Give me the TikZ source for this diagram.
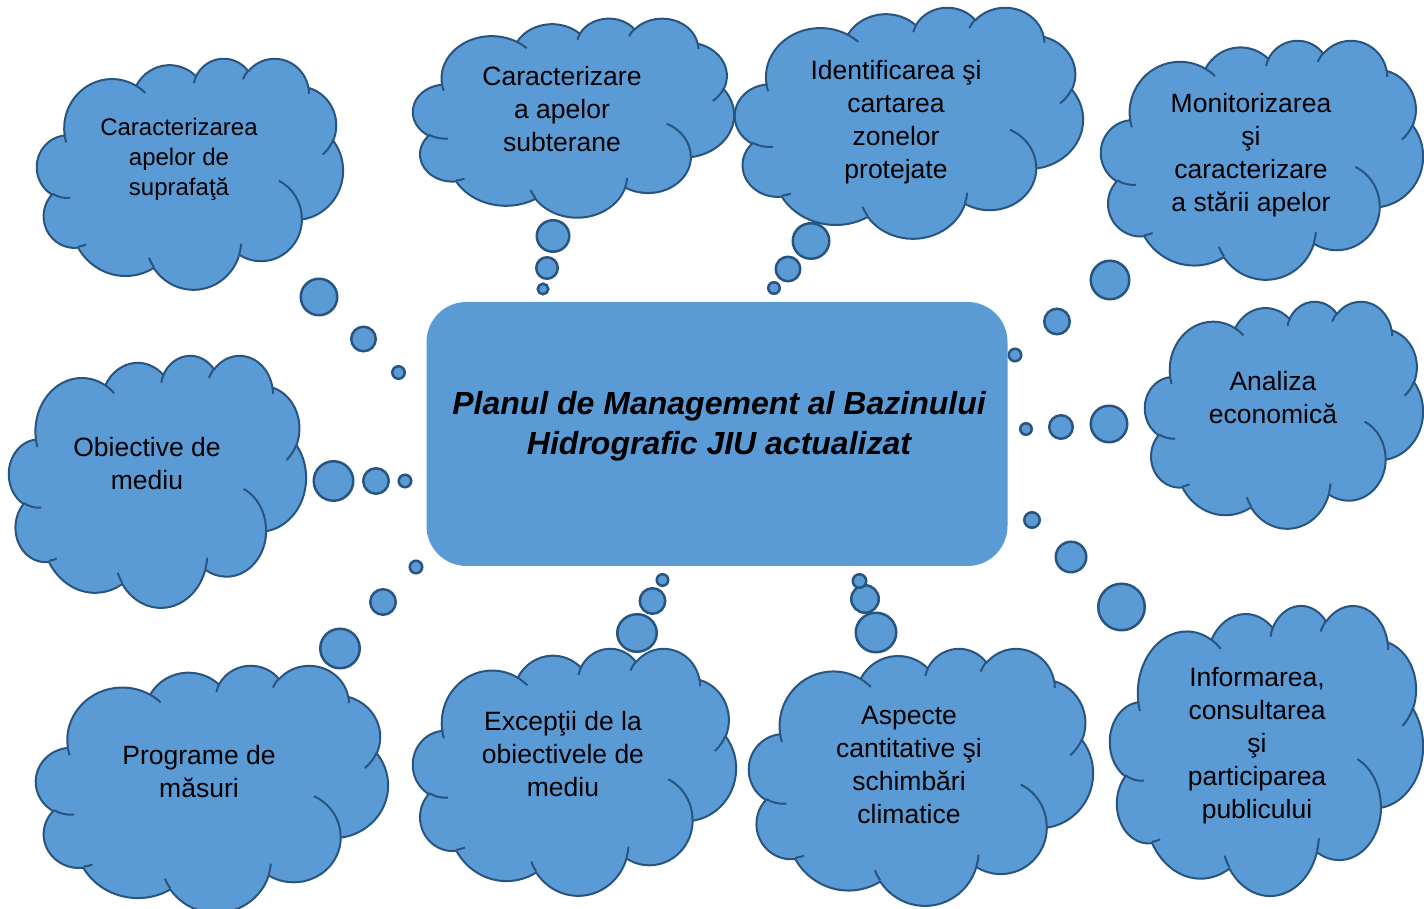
\documentclass[tikz,border=0pt]{standalone}
\usepackage{fontspec}
\setmainfont{Liberation Sans}
\usetikzlibrary{shapes.geometric}
\definecolor{cfill}{RGB}{91,155,213}
\definecolor{cline}{RGB}{40,84,128}
\tikzset{
  cloudbody/.style={fill=cfill, draw=cline, line width=2pt, line join=round},
  cloudcrease/.style={draw=cline, line width=2pt},
  bubble/.style={ellipse, fill=cfill, draw=cline, line width=2.5pt, inner sep=0pt},
  cloudtext/.style={align=center, font=\fontsize{26.5}{33}\selectfont, text=black, inner sep=0pt},
  smalltext/.style={cloudtext, font=\fontsize{24}{30}\selectfont},
  centerbox/.style={fill=cfill, draw=none, rounded corners=40pt, inner sep=0pt},
  centertext/.style={align=center, font=\fontsize{32}{40}\selectfont\bfseries\itshape, text=black, inner sep=0pt},
}
% Office-style cloud: left, top, width, height (pixels, y measured downwards)
\newcommand\drawcloud[4]{%
  \pgfmathsetmacro\clX{#1}%
  \pgfmathsetmacro\clY{909-#2}%
  \pgfmathsetmacro\clSx{#3/43.2}%
  \pgfmathsetmacro\clSy{#4/43.2}%
  \draw[cloudbody] (\clX+3.9*\clSx, \clY-14.37*\clSy)
    \foreach \qa/\qb/\qs/\qw [evaluate=\qs as \qt using {atan2(\qa*sin(\qs),\qb*cos(\qs))},
                              evaluate=\qw as \qd using {mod(atan2(\qa*sin(\qs+\qw),\qb*cos(\qs+\qw))-\qt+720,360)}]
    in {6.753/9.190/-190.48748/123.78053,
        5.333/7.267/-144.10238/89.94523,
        4.365/5.945/-145.80792/99.72302,
        4.857/6.595/-130.98607/117.24173,
        5.333/7.273/-78.70888/109.02692,
        6.775/9.220/-46.26725/130.269,
        5.785/7.867/0.62502/114.03333,
        6.752/9.215/22.4516/115.17255,
        7.720/10.543/66.24263/75.71102,
        4.360/5.918/-274.94208/146.73557,
        4.345/5.945/-246.8285/152.51885}
    { arc[start angle={-1*(\qt)}, delta angle={-1*(\qd)}, x radius={\qa*\clSx*1pt}, y radius={\qb*\clSy*1pt}] }
    -- cycle;
  \foreach \qx/\qy/\qa/\qb/\qs/\qw [evaluate=\qs as \qt using {atan2(\qa*sin(\qs),\qb*cos(\qs))},
                              evaluate=\qw as \qd using {mod(atan2(\qa*sin(\qs+\qw),\qb*cos(\qs+\qw))-\qt+720,360)}]
    in {4.693/26.177/4.345/5.945/86.742/26.4295,
        6.928/34.899/4.360/5.918/73.61047/11.44747,
        16.478/39.090/6.752/9.215/137.62415/14.0811,
        28.827/34.751/6.752/9.215/6.45327/15.99835,
        34.129/22.954/5.785/7.867/-70.29235/70.91737,
        41.798/15.354/5.333/7.273/30.31803/27.7515,
        38.324/5.426/4.857/6.595/-13.74433/14.8589,
        29.078/3.952/4.857/6.595/-149.18145/18.19537,
        22.141/4.720/4.365/5.945/-163.49427/17.68635,
        14.000/5.192/6.753/9.190/-66.70695/12.31935,
        4.127/15.789/6.753/9.190/157.65435/11.85817}
    { \draw[cloudcrease] (\clX+\qx*\clSx, \clY-\qy*\clSy)
        arc[start angle={-1*(\qt)}, delta angle={-1*(\qd)}, x radius={\qa*\clSx*1pt}, y radius={\qb*\clSy*1pt}]; }
}
% bubble: name, cx, cy, rx, ry (pixels, outer size)
\newcommand\bub[5]{%
  \node[bubble, minimum width={2*#4-2.5}, minimum height={2*#5-2.5}] (#1) at (#2, 909-#3) {};
}
\begin{document}
\begin{tikzpicture}[x=1pt, y=1pt]
\fill[white] (0,0) rectangle (1424,909);
\useasboundingbox (0,0) rectangle (1424,909);

% clouds
\drawcloud{37}{58}{306}{231}
\drawcloud{413}{18}{321}{199}
\drawcloud{735}{7}{348}{231}
\drawcloud{1101}{40}{322}{239}
\drawcloud{1145}{301}{278}{227}
\drawcloud{1110}{605}{313}{290}
\drawcloud{749}{648}{344}{257}
\drawcloud{413}{648}{323}{247}
\drawcloud{36}{665}{352}{247}
\drawcloud{9}{355}{297}{252}

% thought bubbles
\bub{b1a}{319}{297}{19.5}{19.5}
\bub{b1b}{363.5}{339}{13.5}{13.5}
\bub{b1c}{398.5}{372.5}{7.5}{7.5}
\bub{b2a}{553}{236}{17.5}{17}
\bub{b2b}{547}{268}{12}{12}
\bub{b2c}{543}{289}{6.5}{6.5}
\bub{b3a}{811}{241}{19.5}{19}
\bub{b3b}{788}{269}{13.5}{13.5}
\bub{b3c}{774}{288}{7}{7}
\bub{b4a}{1110}{280}{20.5}{20.5}
\bub{b4b}{1057}{321.5}{14}{14}
\bub{b4c}{1015}{355}{7.5}{7.5}
\bub{b5a}{1109}{424}{19.5}{19.5}
\bub{b5b}{1061}{427}{13}{13}
\bub{b5c}{1026}{429}{7}{7}
\bub{b6a}{1121.5}{607}{24.5}{24.5}
\bub{b6b}{1071}{557}{16.5}{16.5}
\bub{b6c}{1032}{520}{9}{9}
\bub{b7a}{876}{632.5}{21.5}{21}
\bub{b7b}{865}{599}{15}{15}
\bub{b7c}{859.5}{581}{8}{8}
\bub{b8a}{637}{633}{21}{20}
\bub{b8b}{652.5}{601}{14}{14}
\bub{b8c}{662.5}{580}{7}{7}
\bub{b9a}{340}{648.5}{21}{21}
\bub{b9b}{383}{602}{14}{14}
\bub{b9c}{416}{567}{7.5}{7.5}
\bub{b10a}{333.5}{481}{21}{21}
\bub{b10b}{376}{481}{14}{14}
\bub{b10c}{405}{481}{7.5}{7.5}

% central box
\node[centerbox, minimum width=581pt, minimum height=264pt] (main) at (717, 909-434) {};
\node[centertext] (maintext) at (719, 909-426) {Planul de Management al Bazinului\\Hidrografic JIU actualizat};

% cloud texts
\node[smalltext] (t1) at (179, 909-159.5) {Caracterizarea\\apelor de\\suprafaţă};
\node[cloudtext] (t2) at (562, 909-109) {Caracterizare\\a apelor\\subterane};
\node[cloudtext] (t3) at (896, 909-122) {Identificarea şi\\cartarea\\zonelor\\protejate};
\node[cloudtext] (t4) at (1251, 909-155.5) {Monitorizarea\\şi\\caracterizare\\a stării apelor};
\node[cloudtext] (t5) at (1273, 909-397.7) {Analiza\\economică};
\node[cloudtext] (t6) at (1257, 909-745.5) {Informarea,\\consultarea\\şi\\participarea\\publicului};
\node[cloudtext] (t7) at (909, 909-765) {Aspecte\\cantitative şi\\schimbări\\climatice};
\node[cloudtext] (t8) at (563, 909-754.5) {Excepţii de la\\obiectivele de\\mediu};
\node[cloudtext] (t9) at (199, 909-772) {Programe de\\măsuri};
\node[cloudtext] (t10) at (147, 909-463.7) {Obiective de\\mediu};
\end{tikzpicture}
\end{document}
